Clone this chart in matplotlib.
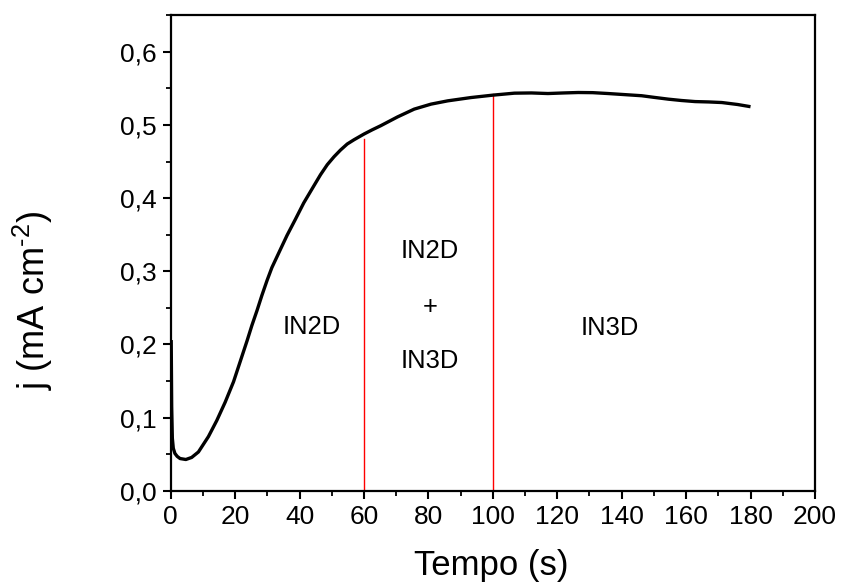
import matplotlib
matplotlib.use("Agg")
import matplotlib.pyplot as plt
from matplotlib.ticker import MultipleLocator, FuncFormatter

plt.rcParams['font.family'] = ['Liberation Sans', 'DejaVu Sans']
plt.rcParams['mathtext.fontset'] = 'custom'
plt.rcParams['mathtext.rm'] = 'Liberation Sans'

tempo = [0.15, 0.3, 0.5, 0.8, 1.3, 2.0, 2.9, 4.7, 6.5, 8.6, 11.7, 14.3, 16.9,
         19.5, 21.6, 23.7, 25.2, 26.8, 28.3, 29.9, 31.4, 33.0, 34.6, 36.1, 38.7, 41.3,
         44.4, 46.5, 48.6, 50.7, 52.7, 54.8, 56.9, 60.0, 62.6, 65.2, 70.4, 75.6, 80.8,
         86.0, 93.2, 100.0, 106.7, 112.0, 117.1, 122.0, 126.5, 131.0, 135.8, 141.0,
         146.2, 150.0, 154.5, 158.5, 162.8, 167.0, 171.1, 176.0, 180.0]
j = [0.206, 0.115, 0.072, 0.058, 0.051, 0.047, 0.044, 0.0427, 0.0455, 0.053, 0.074,
     0.096, 0.121, 0.149, 0.177, 0.2050, 0.226, 0.2465, 0.267, 0.2874, 0.305,
     0.320, 0.335, 0.349, 0.371, 0.3935, 0.4165, 0.432, 0.4457, 0.4566, 0.4657, 0.474,
     0.4798, 0.4876, 0.4935, 0.499, 0.511, 0.5217, 0.5285, 0.533, 0.5375, 0.5408,
     0.5435, 0.5438, 0.543, 0.5438, 0.5444, 0.5442, 0.543, 0.5415, 0.540, 0.5378,
     0.5353, 0.5335, 0.532, 0.5315, 0.5307, 0.528, 0.525]

vline_x = [60, 100]
vline_top = [0.481, 0.542]

labels = ["IN2D", "IN2D", "+", "IN3D", "IN3D"]
label_x = [43.9, 80.5, 80.5, 80.5, 136.2]
label_y = [0.224, 0.328, 0.251, 0.178, 0.223]

fig = plt.figure(figsize=(8.41, 5.87), dpi=100)
ax = fig.add_axes([0.203, 0.164, 0.766, 0.810])

ax.plot(tempo, j, color='black', lw=2.4, solid_capstyle='butt', solid_joinstyle='round', zorder=3)
for xv, top in zip(vline_x, vline_top):
    ax.plot([xv, xv], [0, top], color='red', lw=1.0, zorder=2)

for t, xx, yy in zip(labels, label_x, label_y):
    ax.text(xx, yy, t, ha='center', va='center', fontsize=18.4)

ax.set_xlim(0, 200)
ax.set_ylim(0, 0.65)
ax.xaxis.set_major_locator(MultipleLocator(20))
ax.xaxis.set_minor_locator(MultipleLocator(10))
ax.yaxis.set_major_locator(MultipleLocator(0.1))
ax.yaxis.set_minor_locator(MultipleLocator(0.05))
ax.yaxis.set_major_formatter(FuncFormatter(lambda v, p: f"{v:.1f}".replace('.', ',')))

ax.tick_params(which='major', direction='out', length=6, width=1.5, labelsize=19, pad=4)
ax.tick_params(which='minor', direction='out', length=3.5, width=1.3)
for s in ax.spines.values():
    s.set_linewidth(1.6)

ax.set_xlabel('Tempo (s)', fontsize=25)
ax.xaxis.set_label_coords(0.497, -0.122)
ax.set_ylabel(r'j (mA cm$^{\text{-2}}$)', fontsize=26)
ax.yaxis.set_label_coords(-0.18, 0.40)

fig.savefig('out.png', dpi=100)
